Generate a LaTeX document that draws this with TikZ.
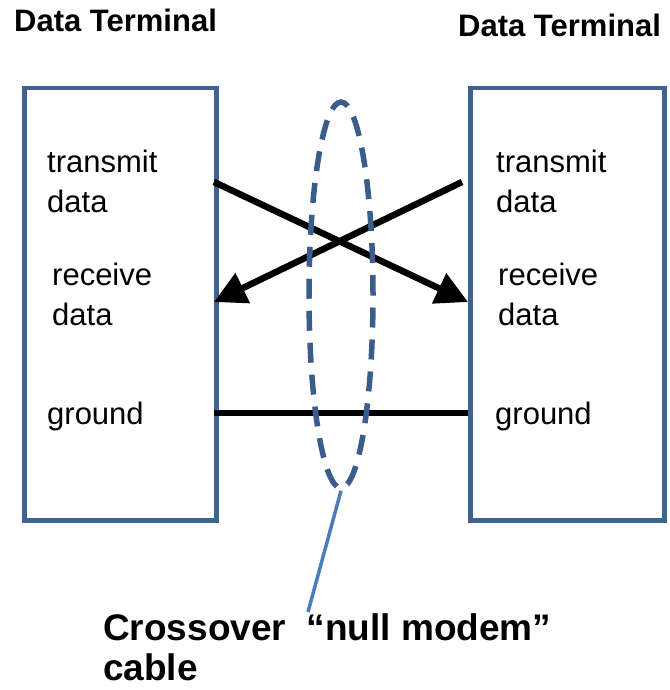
\documentclass[tikz,border=0pt]{standalone}
\usepackage{fontspec}
\setmainfont{Liberation Sans}
\usetikzlibrary{arrows.meta, positioning, shapes.geometric}

\begin{document}
\begin{tikzpicture}[
        x = 1pt, y = -1pt,
        >= {Triangle[length = 32pt, width = 32pt]},
        terminal/.style = {draw = frameblue, line width = 4.5pt, minimum width = 192pt, minimum height = 432pt, inner sep = 0pt},
        title/.style = {font = \fontsize{31}{38}\selectfont\bfseries, anchor = base west, inner sep = 0pt},
        signal/.style = {font = \fontsize{31}{40}\selectfont, align = left, anchor = base west, inner sep = 0pt},
        wire/.style = {line width = 6.5pt, black}
    ]
        \definecolor{frameblue}{HTML}{3F6290}
        \definecolor{cableblue}{HTML}{3A5D8C}
        \definecolor{pointblue}{HTML}{4A7EBB}
        \useasboundingbox (0,0) rectangle (669,690);

        % the two terminals
        \node[terminal, anchor = north west] (leftTerm) at (22,86) {};
        \node[terminal, anchor = north west, minimum width = 194pt] (rightTerm) at (468,86) {};
        \node[title] (leftTitle) at (14,32) {Data Terminal};
        \node[title] (rightTitle) at (458,37) {Data Terminal};

        % signal names (base = last line)
        \node[signal] (leftTx) at (47,212) {transmit\\data};
        \node[signal] (leftRx) at (52,325) {receive\\data};
        \node[signal] (leftGnd) at (47,424) {ground};
        \node[signal] (rightTx) at (496,212) {transmit\\data};
        \node[signal] (rightRx) at (498,325) {receive\\data};
        \node[signal] (rightGnd) at (495,424) {ground};

        % pin points on the box edges
        \coordinate (txL) at (214,182);
        \coordinate (rxL) at (214,302);
        \coordinate (gndL) at (214,413);
        \coordinate (txR) at (462,182);
        \coordinate (rxR) at (468,302);
        \coordinate (gndR) at (468,413);

        \draw[wire, ->] (txL) -- (rxR);
        \draw[wire, ->] (txR) -- (rxL);
        \draw[wire] (gndL) -- (gndR);

        % the cable
        \node[draw = cableblue, line width = 5.5pt, dash pattern = on 20pt off 12pt, ellipse, minimum width = 64pt, minimum height = 386pt, inner sep = 0pt] (cable) at (341,295) {};
        \node[title, font = \fontsize{37}{40}\selectfont\bfseries, align = left] (cableLabel) at (103,680) {Crossover~~\char"201C null modem\char"201D\\cable};
        \draw[pointblue, line width = 3.5pt] (cable.south) -- (308,612);
    \end{tikzpicture}
\end{document}
